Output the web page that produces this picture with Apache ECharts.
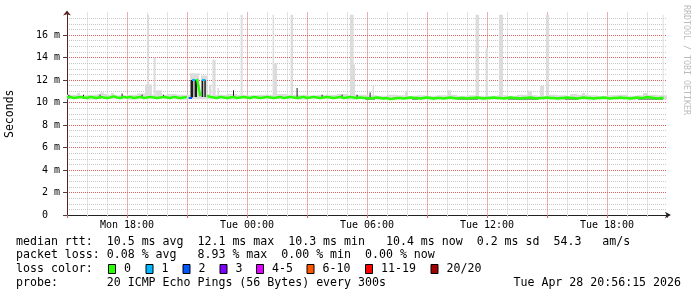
<!DOCTYPE html>
<html><head><meta charset="utf-8">
<script src="https://cdn.jsdelivr.net/npm/echarts@6/dist/echarts.min.js"></script>
<style>html,body{margin:0;padding:0;background:#fff}#c{width:697px;height:297px}</style>
</head><body><div id="c"></div>
<script>
// ---- data (hours measured from Mon 00:00) ----
const startHour = 15;          // Mon 15:00
const stepHours = 1 / 6;       // 10 minute steps
const xTickLabels = {18: 'Mon 18:00', 24: 'Tue 00:00', 30: 'Tue 06:00', 36: 'Tue 12:00', 42: 'Tue 18:00'};
const yTickValues = [0, 2, 4, 6, 8, 10, 12, 14, 16];

// median rtt (ms), one per step
const median = [
 10.45,10.5,10.4,10.45,10.5,10.45,10.4,10.5,10.45,10.4,
 10.5,10.45,10.4,10.45,10.55,10.45,10.4,10.5,10.45,10.5,
 10.4,10.45,10.5,10.4,10.45,10.5,10.45,10.4,10.45,10.5,
 10.45,10.4,10.5,10.45,10.4,10.45,10.5,10.4,12.0,12.1,
 10.55,12.0,10.6,10.5,10.45,10.4,10.5,10.45,10.4,10.45,
 10.5,10.4,10.45,10.5,10.45,10.4,10.5,10.45,10.4,10.45,
 10.5,10.45,10.4,10.45,10.5,10.4,10.45,10.5,10.45,10.4,
 10.45,10.5,10.4,10.45,10.5,10.45,10.4,10.45,10.5,10.45,
 10.4,10.45,10.5,10.4,10.45,10.5,10.45,10.4,10.45,10.4,
 10.4,10.35,10.4,10.45,10.4,10.35,10.4,10.3,10.35,10.4,
 10.4,10.35,10.4,10.45,10.4,10.4,10.35,10.4,10.45,10.4,
 10.35,10.4,10.4,10.35,10.4,10.45,10.4,10.35,10.4,10.4,
 10.35,10.4,10.4,10.45,10.4,10.35,10.4,10.4,10.45,10.4,
 10.4,10.35,10.4,10.45,10.4,10.4,10.35,10.4,10.4,10.45,
 10.4,10.35,10.4,10.4,10.45,10.4,10.4,10.35,10.4,10.4,
 10.45,10.4,10.4,10.35,10.4,10.45,10.4,10.4,10.35,10.4,
 10.4,10.45,10.4,10.35,10.4,10.4,10.45,10.4,10.4,10.35,
 10.4,10.45,10.4,10.4,10.5,10.45,10.4,10.35,10.4,10.4
];
// steps with packet loss: index into median, lost pings
const lossIndex = [37, 38, 41];
const lossCount = [2, 1, 1];

// light smoke band, 30 minute blocks
const bandStep = 0.5;
const bandHi = [
 10.7,10.65,10.7,10.75,10.7,10.65,10.7,10.8,10.7,10.7,
 10.75,10.7,10.7,10.65,10.7,10.7,10.75,10.7,10.65,10.7,
 10.7,10.75,10.7,10.7,10.65,10.7,10.7,10.75,10.7,10.7,
 10.65,10.6,10.7,10.65,10.6,10.65,10.6,10.65,10.7,10.6,
 10.65,10.6,10.6,10.65,10.6,10.7,10.65,10.6,10.7,10.65,
 10.6,10.7,10.65,10.6,10.65,10.7,10.6,10.65,10.7,10.65
];
const bandLo = [
 10.3,10.3,10.25,10.3,10.3,10.3,10.25,10.3,10.3,10.3,
 10.3,10.25,10.3,10.3,10.3,10.3,10.25,10.3,10.3,10.3,
 10.3,10.3,10.3,10.25,10.3,10.3,10.3,10.3,10.25,10.3,
 10.25,10.25,10.2,10.25,10.25,10.25,10.2,10.25,10.25,10.25,
 10.25,10.2,10.25,10.25,10.25,10.2,10.25,10.25,10.25,10.2,
 10.25,10.25,10.2,10.25,10.25,10.25,10.2,10.25,10.25,10.25
];
// smoke pieces: [from hour, to hour, low ms, high ms]
const smoke = [
 [19.0,19.1,10.5,17.8],[18.9,19.25,10.5,11.6],[19.33,19.43,10.5,14.0],[19.45,19.75,10.5,11.1],
 [21.15,21.6,10.5,12.6],[21.7,22.0,10.5,12.4],[22.1,22.22,10.5,11.6],[22.27,22.43,10.5,13.8],
 [22.52,22.6,10.5,11.3],[23.68,23.78,10.5,17.8],[25.28,25.35,10.5,17.8],[25.3,25.5,10.5,13.5],
 [26.18,26.3,10.5,17.8],[29.15,29.33,10.5,17.8],[29.28,29.4,10.5,13.4],[30.28,30.35,10.4,11.5],
 [31.9,32.05,10.4,11.05],[34.05,34.2,10.4,11.1],[35.43,35.6,10.4,17.8],[35.93,36.05,10.4,14.8],
 [36.6,36.8,10.4,17.8],[38.05,38.25,10.4,11.05],[38.65,38.85,10.4,11.5],[38.95,39.1,10.4,17.8],
 [40.15,40.5,10.4,10.75],[40.75,40.9,10.4,10.85],[43.8,44.05,10.4,10.85],[44.78,44.83,10.4,17.8],
 [15.5,15.65,10.4,10.85],[16.65,16.85,10.4,10.9],[17.2,17.35,10.4,10.85],
 [21.3,21.385,10.5,12.0],[21.8,21.87,10.5,12.0],
 [21.18,21.3,10.45,12.0],[21.385,21.5,10.5,12.0],[21.73,21.8,10.5,12.0],[21.87,21.94,10.5,12.0],
 [15.07,15.12,10.35,10.7],[15.8,15.85,10.35,10.7],[16.63,16.68,10.35,10.7],[17.73,17.78,10.35,10.8],
 [18.73,18.78,10.4,10.7],[19.8,19.85,10.4,10.7],[23.3,23.35,10.4,11.1],[26.48,26.53,10.4,11.3],
 [27.73,27.78,10.4,10.7],[28.73,28.78,10.4,10.7],[29.48,29.53,10.4,10.7],[30.13,30.18,10.3,10.9],
 [29.9,30.4,10.25,10.35],[32.25,32.55,10.25,10.35],[34.55,35.55,10.25,10.35],[37.05,38.55,10.25,10.35],
 [39.9,40.55,10.25,10.35],[43.55,44.8,10.25,10.35]
];
// density of each smoke piece (0 = sparse ... 3 = dense)
const smokeDensity = [
 0,0,0,0, 0,0,0,0, 0,0,0,0, 0,0,0,0, 0,0,0,0, 0,0,0,0, 0,0,0,0,
 0,0,0,
 1,1,
 3,3,3,3,
 3,3,3,3, 3,3,3,3, 3,3,3,3,
 2,2,2,2, 2,2
];

const lossLabels = ['0', '1', '2', '3', '4-5', '6-10', '11-19', '20/20'];
const lossColors = ['#26ff00', '#00b8ff', '#0059ff', '#7e00ff', '#dd00ff', '#ff5500', '#ff0000', '#a10000'];

const statLine1 = 'median rtt:  10.5 ms avg  12.1 ms max  10.3 ms min   10.4 ms now  0.2 ms sd  54.3   am/s';
const statLine2 = 'packet loss: 0.08 % avg   8.93 % max  0.00 % min  0.00 % now';
const statLine3 = 'loss color:';
const statLine4 = 'probe:       20 ICMP Echo Pings (56 Bytes) every 300s';
const dateText = 'Tue Apr 28 20:56:15 2026';
const sideText = 'RRDTOOL / TOBI OETIKER';

// ---- chart ----
const smokeShades = ['#dcdcdc', '#b4b4b4', '#7a7a7a', '#1c1c1c'];
const MONO = '"DejaVu Sans Mono", monospace';

const lossSet = new Set(lossIndex);
const medianData = median.map((v, i) => [startHour + i * stepHours, lossSet.has(i) ? null : v]);
const bandData = bandHi.map((h, k) => [startHour + k * bandStep, startHour + (k + 1) * bandStep, bandLo[k], h, 0]);
const smokeData = smoke.map((s, k) => [s[0], s[1], s[2], s[3], smokeDensity[k]]);
const lossData = lossIndex.map((idx, k) => [startHour + idx * stepHours, median[idx], lossCount[k]]);

function rectItem(params, api) {
  const p0 = api.coord([api.value(0), api.value(3)]);
  const p1 = api.coord([api.value(1), api.value(2)]);
  return {
    type: 'rect',
    shape: {x: p0[0], y: p0[1], width: Math.max(1, p1[0] - p0[0]), height: p1[1] - p0[1]},
    style: {fill: smokeShades[api.value(4)]}
  };
}

const chart = echarts.init(document.getElementById('c'), null, {renderer: 'canvas'});
const majorStyle = {color: '#e06060', type: [1, 1], width: 1};
const minorStyle = {color: '#c8c8c8', type: [1, 1], width: 1};

// plot box
const PL = 67, PW = 600, PT = 12.5, PH = 202.5;
const hourPx = PW / 30, halfMsPx = PH / 36;

// main grid + helper grids shifted by one minor step, so the minor grid never lands on a major line
const grids = [
  {left: PL, width: PW, top: PT, height: PH},
  {left: PL + hourPx, width: PW, top: PT, height: PH},
  {left: PL + 2 * hourPx, width: PW, top: PT, height: PH},
  {left: PL, width: PW, top: PT - halfMsPx, height: PH},
  {left: PL, width: PW, top: PT - 2 * halfMsPx, height: PH},
  {left: PL, width: PW, top: PT - 3 * halfMsPx, height: PH}
].map(g => Object.assign(g, {containLabel: false, outerBoundsMode: 'none'}));

const hiddenAxis = {axisLine: {show: false}, axisTick: {show: false}, axisLabel: {show: false}, splitLine: {show: false}};
function helperX(gi, withLines) {
  return Object.assign({type: 'value', gridIndex: gi, min: 15, max: 45, interval: 3, z: 0}, hiddenAxis,
    withLines ? {splitLine: {show: true, showMinLine: true, showMaxLine: false, lineStyle: minorStyle}} : {});
}
function helperY(gi, withLines) {
  return Object.assign({type: 'value', gridIndex: gi, min: 0, max: 18, interval: 2, z: 0}, hiddenAxis,
    withLines ? {splitLine: {show: true, showMinLine: true, showMaxLine: false, lineStyle: minorStyle}} : {});
}

const boxX = [108, 145.5, 182.5, 219.5, 256, 306.5, 365, 430.5];
const legendGraphics = [];
const lineY = [241.5, 255.2, 269, 282.7];
const textStyle = {x: 0, y: 0, font: '11.6px ' + MONO, fill: '#000', verticalAlign: 'middle', textVerticalAlign: 'middle'};
[statLine1, statLine2, statLine3, statLine4].forEach((t, i) => {
  legendGraphics.push({type: 'text', x: 16, y: lineY[i], style: Object.assign({text: t}, textStyle)});
});
lossLabels.forEach((lab, i) => {
  legendGraphics.push({type: 'rect', shape: {x: boxX[i] + 0.5, y: 264.5, width: 7, height: 9},
    style: {fill: lossColors[i], stroke: '#000', lineWidth: 1}});
  legendGraphics.push({type: 'text', x: boxX[i] + 16, y: lineY[2], style: Object.assign({text: lab}, textStyle)});
});
legendGraphics.push({type: 'text', x: 681, y: lineY[3],
  style: Object.assign({text: dateText}, textStyle, {align: 'right', textAlign: 'right'})});
legendGraphics.push({type: 'text', x: 686, y: 5, rotation: -Math.PI / 2,
  style: {text: sideText, x: 0, y: 0, font: '8.3px ' + MONO, fill: '#bcbcbc', align: 'left', textAlign: 'left', verticalAlign: 'middle', textVerticalAlign: 'middle'}});

chart.setOption({
  animation: false,
  backgroundColor: '#ffffff',
  grid: grids,
  xAxis: [
    {
      type: 'value', gridIndex: 0, min: 15, max: 45, interval: 3, position: 'bottom', z: 1,
      axisLine: {show: true, onZero: false, lineStyle: {color: '#222', width: 1},
        symbol: ['none', 'arrow'], symbolSize: [5, 6], symbolOffset: [0, 4]},
      axisTick: {show: true, length: 3, lineStyle: {color: '#e06060'}},
      minorTick: {show: true, splitNumber: 3, length: 2, lineStyle: {color: '#c8c8c8'}},
      axisLabel: {interval: 0, margin: 5, color: '#000', fontFamily: MONO, fontSize: 10,
        formatter: v => xTickLabels[v] || ''},
      splitLine: {show: true, showMinLine: false, showMaxLine: false, lineStyle: majorStyle}
    },
    helperX(1, true), helperX(2, true), helperX(3, false), helperX(4, false), helperX(5, false)
  ],
  yAxis: [
    {
      type: 'value', gridIndex: 0, min: 0, max: 18, interval: 2, position: 'left', z: 1,
      name: 'Seconds', nameLocation: 'middle', nameGap: 51, nameRotate: 90,
      nameTextStyle: {fontFamily: MONO, fontSize: 11.5, color: '#000'},
      axisLine: {show: true, lineStyle: {color: '#5a2222', width: 1},
        symbol: ['none', 'arrow'], symbolSize: [6, 5], symbolOffset: [0, 2]},
      axisTick: {show: true, length: 4, lineStyle: {color: '#444'}},
      axisLabel: {margin: 7, color: '#000', fontFamily: MONO, fontSize: 10, showMaxLabel: false,
        formatter: v => (v === 0 ? '0\u00a0\u00a0' : (yTickValues.indexOf(v) >= 0 ? v + ' m' : ''))},
      splitLine: {show: true, showMinLine: false, showMaxLine: false, lineStyle: majorStyle}
    },
    helperY(1, false), helperY(2, false), helperY(3, true), helperY(4, true), helperY(5, true)
  ],
  series: [
    {type: 'custom', name: 'band', data: bandData, renderItem: rectItem, clip: true, silent: true, z: 3,
     xAxisIndex: 0, yAxisIndex: 0, encode: {x: [0, 1], y: [2, 3]}},
    {type: 'custom', name: 'smoke', data: smokeData, renderItem: rectItem, clip: true, silent: true, z: 4,
     xAxisIndex: 0, yAxisIndex: 0, encode: {x: [0, 1], y: [2, 3]}},
    {type: 'line', name: 'median', data: medianData, showSymbol: false, symbol: 'none', z: 5,
     xAxisIndex: 0, yAxisIndex: 0, connectNulls: false, lineStyle: {color: lossColors[0], width: 2.5}},
    {type: 'custom', name: 'loss', data: lossData, clip: true, z: 6, xAxisIndex: 0, yAxisIndex: 0,
     encode: {x: 0, y: 1},
     renderItem: (params, api) => {
       const a = api.coord([api.value(0) - stepHours / 2, api.value(1)]);
       const b = api.coord([api.value(0) + stepHours / 2, api.value(1)]);
       return {type: 'line', shape: {x1: a[0], y1: a[1], x2: b[0], y2: b[1]},
         style: {stroke: lossColors[api.value(2)], lineWidth: 2}};
     }}
  ],
  graphic: legendGraphics
});
</script></body></html>
